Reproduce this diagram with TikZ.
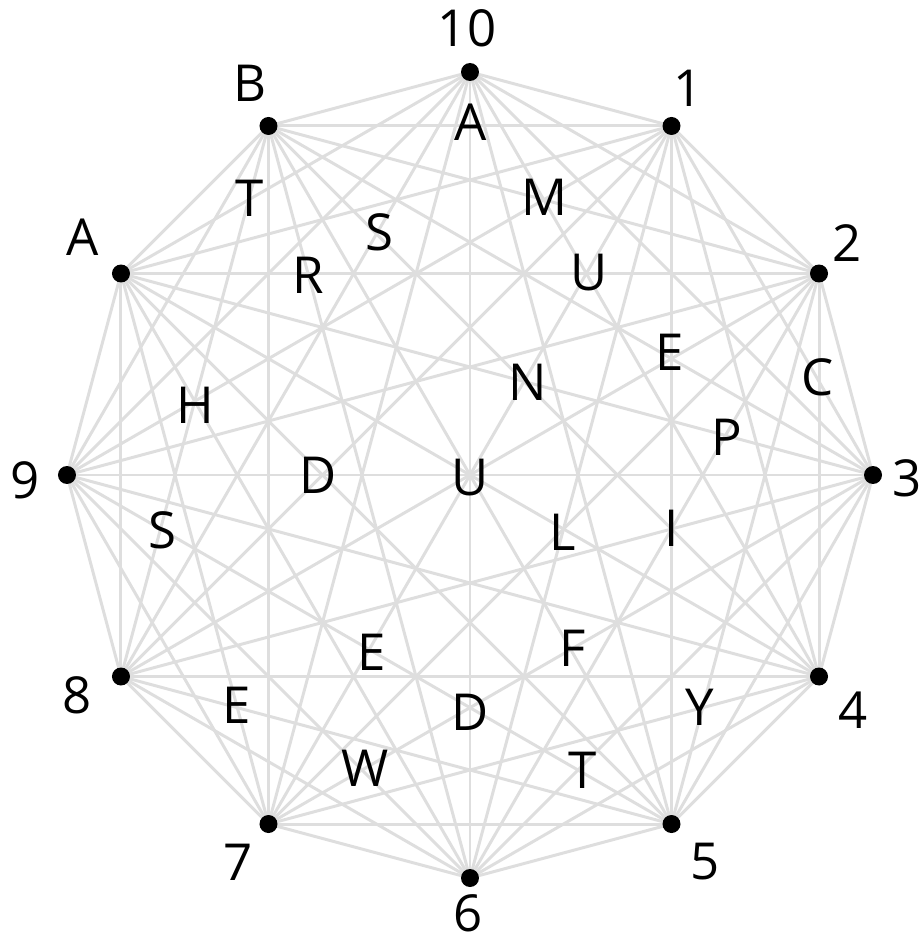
\documentclass[tikz,border=0pt]{standalone}
\usepackage{fontspec}
\setmainfont{Open Sans}
\usetikzlibrary{positioning}
\definecolor{edgeGray}{RGB}{222,222,222}

\begin{document}
\begin{tikzpicture}[x=0.02cm, y=0.02cm,
    every node/.style={font=\fontsize{29}{34}\selectfont, inner sep=0pt},
    edge/.style={draw=edgeGray, line width=1.7pt},
    dot/.style={circle, fill=black, inner sep=0pt, minimum size=0.36cm}]
  \useasboundingbox (-470,-465) rectangle (450,475);
  % Corners of the 12-gon
  \foreach \i in {0,...,11}
    \coordinate (v\i) at ({90-30*\i}:403);
  % Edges - every pair of corners
  \foreach \i in {0,...,11}
    \foreach \j in {0,...,11}
      {\ifnum\i<\j \draw[edge] (v\i) -- (v\j);\fi}
  % Dots
  \foreach \i in {0,...,11}
    \node[dot] (d\i) at (v\i) {};
  % Corner labels
  \node (c10) at (-3, 447) {10};
  \node (c1) at (218, 387) {1};
  \node (c2) at (377, 232) {2};
  \node (c3) at (437, -3) {3};
  \node (c4) at (383, -235) {4};
  \node (c5) at (235, -387) {5};
  \node (c6) at (-2, -438) {6};
  \node (c7) at (-232, -387) {7};
  \node (c8) at (-393, -220) {8};
  \node (c9) at (-445, -5) {9};
  \node (cA) at (-387, 238) {A};
  \node (cB) at (-220, 392) {B};
  % Letters in the cells
  \node (t1) at (1, 353) {A};
  \node (t2) at (75, 278) {M};
  \node (t3) at (119, 202) {U};
  \node (t4) at (200, 123) {E};
  \node (t5) at (348, 98) {C};
  \node (t6) at (257, 38) {P};
  \node (t7) at (58, 93) {N};
  \node (t8) at (202, -53) {I};
  \node (t9) at (93, -57) {L};
  \node (t10) at (0, -3) {U};
  \node (t11) at (-152, 0) {D};
  \node (t12) at (-275, 70) {H};
  \node (t13) at (-308, -55) {S};
  \node (t14) at (-162, 200) {R};
  \node (t15) at (-91, 243) {S};
  \node (t16) at (-220, 277) {T};
  \node (t17) at (-98, -177) {E};
  \node (t18) at (103, -173) {F};
  \node (t19) at (0, -237) {D};
  \node (t20) at (230, -232) {Y};
  \node (t21) at (113, -295) {T};
  \node (t22) at (-105, -293) {W};
  \node (t23) at (-233, -230) {E};
\end{tikzpicture}
\end{document}
